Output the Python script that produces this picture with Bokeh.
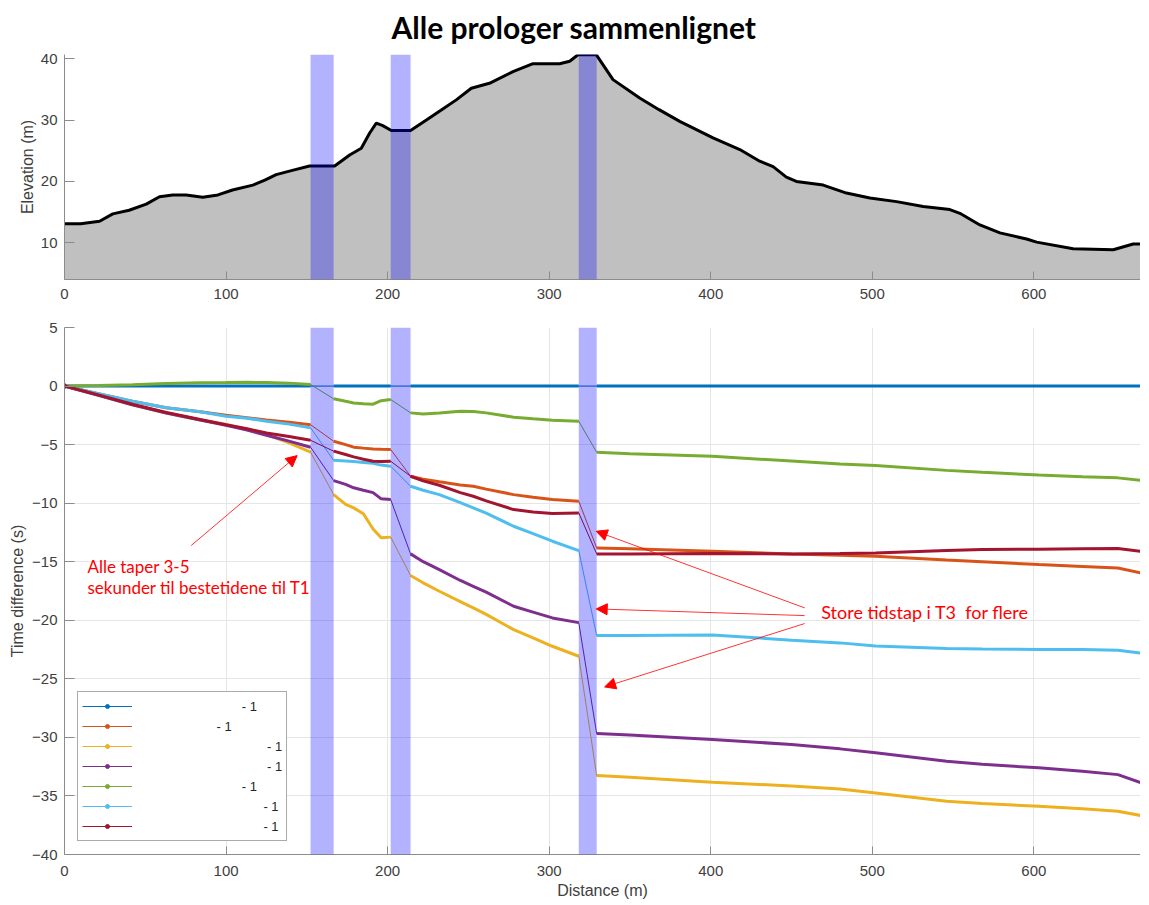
import math
from bokeh.plotting import figure
from bokeh.layouts import column
from bokeh.models import (BoxAnnotation, Legend, LegendItem, Label, Arrow,
                          NormalHead, Range1d, FixedTicker)
from bokeh.embed import file_html
from bokeh.resources import INLINE

# ---------------- data ----------------
elev_x = [0, 10, 21.7, 29.9, 40, 50.6, 58.8, 67, 75.3, 85.6, 95, 104, 116.6, 124, 131,
          141, 151.7, 167.2, 176.5, 183.7, 188.9, 193, 197, 202.3, 214.2, 224, 233,
          242.5, 251.8, 263, 277.6, 290, 306.5, 312.7, 317.8, 329.2, 339.5, 356, 368,
          380.8, 401.4, 418, 430.3, 438.6, 446.8, 453, 469.6, 484, 498.5, 515, 531.5,
          548, 554.2, 566.6, 579, 595.5, 601.7, 624.3, 649.1, 661.5, 671]
elev_y = [13.1, 13.1, 13.5, 14.7, 15.3, 16.3, 17.5, 17.8, 17.8, 17.4, 17.8, 18.6, 19.4,
          20.2, 21.1, 21.8, 22.5, 22.5, 24.3, 25.4, 27.9, 29.5, 29.1, 28.3, 28.3, 30.0,
          31.6, 33.3, 35.2, 36.0, 37.9, 39.2, 39.2, 39.6, 40.65, 40.65, 36.6, 33.6,
          31.7, 29.8, 27.1, 25.2, 23.3, 22.4, 20.7, 20.0, 19.4, 18.1, 17.3, 16.7, 15.9,
          15.4, 14.8, 12.9, 11.6, 10.6, 10.1, 9.0, 8.85, 9.8, 9.8]

band_start = [152.3, 201.9, 318.3]
band_end = [166.6, 214.2, 329.4]

# distance grid of each stretch between the marked sections
x_seg1 = [0, 21, 42, 63, 84, 100, 113, 125, 139, 152.3]
x_seg2 = [166.6, 174, 179, 185, 191, 196, 201.9]
x_seg3 = [214.2, 222, 232, 245, 253, 261, 278, 290, 302, 318.3]
x_seg4 = [329.4, 350, 401, 450, 480, 502, 546, 568, 603, 630, 652, 671]

s1_seg = [[0] * 10, [0] * 7, [0] * 10, [0] * 12]
s2_seg = [[0, -0.65, -1.3, -1.85, -2.2, -2.5, -2.7, -2.9, -3.1, -3.3],
          [-4.71, -5.0, -5.22, -5.3, -5.37, -5.4, -5.42],
          [-7.7, -7.95, -8.18, -8.45, -8.55, -8.8, -9.27, -9.5, -9.69, -9.83],
          [-13.82, -13.9, -14.1, -14.35, -14.45, -14.53, -14.85, -15.0, -15.24, -15.4, -15.53, -16.1]]
s3_seg = [[0, -0.8, -1.6, -2.3, -2.9, -3.29, -3.7, -4.14, -4.85, -5.65],
          [-9.27, -10.1, -10.4, -10.9, -12.2, -12.96, -12.9],
          [-16.18, -16.8, -17.52, -18.4, -18.94, -19.5, -20.8, -21.5, -22.22, -23.07],
          [-33.26, -33.4, -33.83, -34.15, -34.4, -34.74, -35.46, -35.65, -35.88, -36.1, -36.3, -36.8]]
s4_seg = [[0, -0.8, -1.6, -2.3, -2.9, -3.35, -3.75, -4.2, -4.7, -5.22],
          [-8.07, -8.4, -8.69, -8.9, -9.1, -9.63, -9.69],
          [-14.33, -15.0, -15.67, -16.6, -17.1, -17.6, -18.8, -19.3, -19.8, -20.2],
          [-29.67, -29.8, -30.19, -30.6, -30.98, -31.32, -32.04, -32.3, -32.6, -32.9, -33.18, -34.1]]
s5_seg = [[0, 0.05, 0.12, 0.22, 0.28, 0.3, 0.32, 0.3, 0.25, 0.13],
          [-1.09, -1.3, -1.44, -1.52, -1.55, -1.25, -1.15],
          [-2.29, -2.38, -2.3, -2.15, -2.17, -2.29, -2.66, -2.8, -2.92, -3.0],
          [-5.65, -5.79, -6.0, -6.4, -6.65, -6.79, -7.2, -7.36, -7.6, -7.75, -7.84, -8.13]]
s6_seg = [[0, -0.65, -1.3, -1.85, -2.2, -2.58, -2.75, -3.0, -3.25, -3.57],
          [-6.34, -6.4, -6.45, -6.52, -6.6, -6.75, -6.85],
          [-8.56, -8.9, -9.27, -9.95, -10.4, -10.85, -11.97, -12.6, -13.25, -14.05],
          [-21.3, -21.3, -21.25, -21.7, -21.93, -22.2, -22.4, -22.45, -22.5, -22.5, -22.55, -22.9]]
s7_seg = [[0, -0.75, -1.55, -2.25, -2.86, -3.3, -3.65, -4.0, -4.3, -4.63],
          [-5.56, -5.85, -6.05, -6.25, -6.42, -6.45, -6.42],
          [-7.7, -8.1, -8.47, -9.1, -9.41, -9.8, -10.55, -10.75, -10.89, -10.83],
          [-14.33, -14.33, -14.3, -14.33, -14.3, -14.25, -14.05, -13.96, -13.93, -13.9, -13.88, -14.19]]

series_values = [s1_seg, s2_seg, s3_seg, s4_seg, s5_seg, s6_seg, s7_seg]
series_colors = ["#0072BD", "#D95319", "#EDB120", "#7E2F8E", "#77AC30", "#4DBEEE", "#A2142F"]
legend_labels = ["- 1"] * 7

x_ticks = [0, 100, 200, 300, 400, 500, 600]
elev_ticks = [10, 20, 30, 40]
time_ticks = [-40, -35, -30, -25, -20, -15, -10, -5, 0, 5]

TITLE = "Alle prologer sammenlignet"

# ---------------- styling helpers ----------------
TICK_FONT = "Liberation Sans"
AXIS_COL = "#8c8c8c"
LABEL_COL = "#404040"


def style_axes(p, xlab=None, ylab=None, ystand=5, xstand=9):
    for ax in (p.xaxis[0], p.yaxis[0]):
        ax.axis_line_color = AXIS_COL
        ax.axis_line_width = 1
        ax.major_tick_line_color = AXIS_COL
        ax.major_tick_out = 0
        ax.minor_tick_line_color = None
        ax.major_label_text_font = TICK_FONT
        ax.major_label_text_font_size = "15px"
        ax.major_label_text_color = LABEL_COL
        ax.axis_label_text_font = TICK_FONT
        ax.axis_label_text_font_size = "16px"
        ax.axis_label_text_font_style = "normal"
        ax.axis_label_text_color = LABEL_COL
    p.xaxis[0].major_tick_in = 8
    p.yaxis[0].major_tick_in = 10
    p.xaxis[0].major_label_standoff = xstand
    p.yaxis[0].major_label_standoff = 7
    if xlab:
        p.xaxis[0].axis_label = xlab
        p.xaxis[0].axis_label_standoff = 3
    if ylab:
        p.yaxis[0].axis_label = ylab
        p.yaxis[0].axis_label_standoff = ystand
    p.outline_line_color = None


# ---------------- top: elevation ----------------
x_range = Range1d(0, 666)
p1 = figure(frame_width=1076, frame_height=225, x_range=x_range, y_range=Range1d(4, 40.7),
            output_backend="svg", toolbar_location=None,
            min_border_left=64, min_border_right=0, min_border_top=54, min_border_bottom=30)
p1.title.text = TITLE
p1.title.align = "left"
p1.title.offset = 327
p1.title.vertical_align = "top"
p1.title.standoff = 15
p1.title.text_font = "Lato"
p1.title.text_font_style = "bold"
p1.title.text_font_size = "30px"
p1.title.text_color = "#000000"
p1.xgrid.visible = False
p1.ygrid.visible = False
p1.xaxis.ticker = FixedTicker(ticks=x_ticks)
p1.yaxis.ticker = FixedTicker(ticks=elev_ticks)
style_axes(p1, ylab="Elevation (m)", ystand=2)

p1.varea(x=elev_x, y1=[0] * len(elev_x), y2=elev_y, fill_color="#c0c0c0")
p1.line(elev_x, elev_y, line_color="#000000", line_width=3)
for b0, b1 in zip(band_start, band_end):
    p1.add_layout(BoxAnnotation(left=b0, right=b1, fill_color="#0000ff", fill_alpha=0.3,
                                line_color=None))

# ---------------- bottom: time difference ----------------
p2 = figure(frame_width=1076, frame_height=527, x_range=x_range, y_range=Range1d(-40, 5),
            output_backend="svg", toolbar_location=None,
            min_border_left=64, min_border_right=0, min_border_top=18, min_border_bottom=49)
p2.xaxis.ticker = FixedTicker(ticks=x_ticks)
p2.yaxis.ticker = FixedTicker(ticks=time_ticks)
p2.xgrid.grid_line_color = "#e6e6e6"
p2.ygrid.grid_line_color = "#e6e6e6"
style_axes(p2, xlab="Distance (m)", ylab="Time difference (s)", ystand=3, xstand=11)

segments_x = [x_seg1, x_seg2, x_seg3, x_seg4]
items = []
pads = [29, 22, 36, 36, 29, 35, 35]
for segs, col, lab, pad in zip(series_values, series_colors, legend_labels, pads):
    full_x, full_y, thick_x, thick_y = [], [], [], []
    for k, (sx, sy) in enumerate(zip(segments_x, segs)):
        full_x += sx
        full_y += sy
        if k > 0:
            thick_x.append(math.nan)
            thick_y.append(math.nan)
        thick_x += sx
        thick_y += sy
    # start-point marker (hidden beneath the converging lines; gives the legend its dot)
    dot_r = p2.scatter(full_x[:1], full_y[:1], marker="circle", size=4,
                       fill_color=col, line_color=col)
    thin_r = p2.line(full_x, full_y, line_color=col, line_width=1)
    p2.line(thick_x, thick_y, line_color=col, line_width=3)
    items.append(LegendItem(label="\u00a0" * pad + lab, renderers=[thin_r, dot_r]))

for b0, b1 in zip(band_start, band_end):
    p2.add_layout(BoxAnnotation(left=b0, right=b1, fill_color="#0000ff", fill_alpha=0.3,
                                line_color=None))

legend = Legend(items=items, location="bottom_left", margin=13, padding=4, spacing=0,
                glyph_width=50, glyph_height=10, label_height=20, label_standoff=5,
                label_text_font=TICK_FONT, label_text_font_size="13px",
                label_text_color="#262626", border_line_color="#555555",
                border_line_width=1, background_fill_color="#ffffff",
                background_fill_alpha=1.0)
p2.add_layout(legend)

# red annotations
RED = "#ff0000"
ANN_FONT = "Lato"
p2.add_layout(Label(x=14.2, y=-15.39, text="Alle taper 3-5", text_color=RED,
                    text_font=ANN_FONT, text_font_size="17px", text_baseline="middle"))
p2.add_layout(Label(x=14.2, y=-17.23, text="sekunder til bestetidene til T1", text_color=RED,
                    text_font=ANN_FONT, text_font_size="17px", text_baseline="middle"))
p2.add_layout(Label(x=468.4, y=-19.28, text="Store tidstap i T3\u00a0 for flere", text_color=RED,
                    text_font=ANN_FONT, text_font_size="18px", text_baseline="middle"))


def arrow(xs, ys, xe, ye):
    p2.add_layout(Arrow(end=NormalHead(size=11, fill_color=RED, line_color=RED),
                        x_start=xs, y_start=ys, x_end=xe, y_end=ye,
                        line_color=RED, line_width=1, line_alpha=0.8))


arrow(78.4, -13.62, 144.0, -5.94)
arrow(458.1, -18.94, 329.1, -12.40)
arrow(458.1, -19.60, 329.1, -19.03)
arrow(458.1, -20.28, 334.3, -25.69)

layout = column(p1, p2, spacing=0)
open("out.html", "w").write(file_html(layout, INLINE))
